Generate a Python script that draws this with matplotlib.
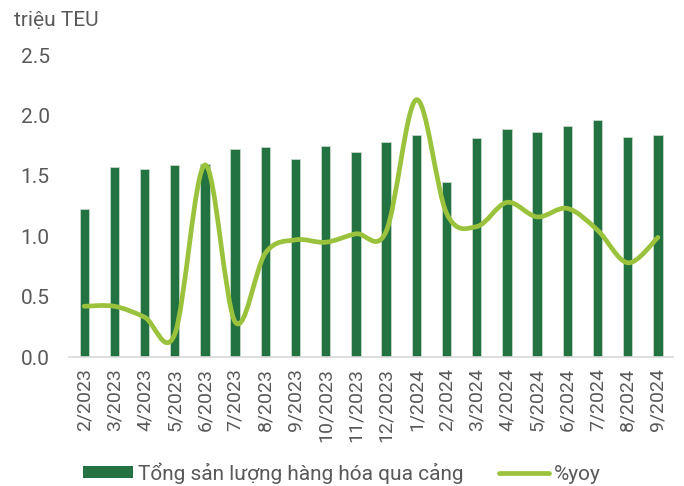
import matplotlib
matplotlib.use("Agg")
import matplotlib.pyplot as plt
from matplotlib.path import Path
from matplotlib.patches import PathPatch, Patch
from matplotlib.lines import Line2D
import numpy as np

plt.rcParams['font.family'] = ['Roboto', 'DejaVu Sans']

months = ["2/2023", "3/2023", "4/2023", "5/2023", "6/2023", "7/2023", "8/2023",
          "9/2023", "10/2023", "11/2023", "12/2023", "1/2024", "2/2024", "3/2024",
          "4/2024", "5/2024", "6/2024", "7/2024", "8/2024", "9/2024"]
throughput = [1.225, 1.57, 1.56, 1.59, 1.60, 1.72, 1.74, 1.64, 1.75, 1.70,
              1.78, 1.84, 1.45, 1.81, 1.89, 1.86, 1.91, 1.96, 1.82, 1.84]
yoy = [0.42, 0.42, 0.33, 0.19, 1.59, 0.29, 0.86, 0.97, 0.95, 1.02,
       1.04, 2.13, 1.19, 1.08, 1.28, 1.16, 1.23, 1.05, 0.78, 0.99]

bar_color = "#237241"
line_color = "#9BC23C"
text_color = "#595959"

fig = plt.figure(figsize=(6.84, 4.86), dpi=100)
ax = fig.add_axes([0.101, 0.2654, 0.883, 0.6214])

x = np.arange(len(months))
ax.bar(x, throughput, width=0.31, color=bar_color, edgecolor="#C8D8CC", linewidth=0.6, zorder=2)

# smoothed line (Excel-style Bezier through the data points)
pts = np.column_stack([x, yoy]).astype(float)
n = len(pts)
verts = [tuple(pts[0])]
codes = [Path.MOVETO]
for i in range(n - 1):
    p0 = pts[i - 1] if i > 0 else pts[i]
    p1 = pts[i]
    p2 = pts[i + 1]
    p3 = pts[i + 2] if i + 2 < n else pts[i + 1]
    c1 = p1 + (p2 - p0) / 6.0
    c2 = p2 - (p3 - p1) / 6.0
    verts += [tuple(c1), tuple(c2), tuple(p2)]
    codes += [Path.CURVE4, Path.CURVE4, Path.CURVE4]
path = Path(verts, codes)
ax.add_patch(PathPatch(path, facecolor="none", edgecolor=line_color, linewidth=3.4,
                       capstyle="round", joinstyle="round", zorder=3))

ax.set_xlim(-0.5, len(months) - 0.5)
ax.set_ylim(0, 2.5)
ax.set_yticks([0, 0.5, 1.0, 1.5, 2.0, 2.5])
ax.set_yticklabels(["0.0", "0.5", "1.0", "1.5", "2.0", "2.5"])
ax.set_xticks(x)
ax.set_xticklabels(months, rotation=90)
ax.tick_params(axis="both", length=0, colors=text_color, labelsize=14)
ax.tick_params(axis="y", pad=14, labelsize=15)
ax.tick_params(axis="x", pad=8)
for s in ["top", "right", "left"]:
    ax.spines[s].set_visible(False)
ax.spines["bottom"].set_color("#D9D9D9")
ax.spines["bottom"].set_linewidth(1.2)

fig.text(0.02, 0.958, "triệu TEU", color=text_color, fontsize=15, va="center", ha="left")

handles = [Patch(facecolor=bar_color, edgecolor="none"),
           Line2D([0], [0], color=line_color, linewidth=3.4, solid_capstyle="round")]
fig.legend(handles, ["Tổng sản lượng hàng hóa qua cảng", "%yoy"], loc="center",
           bbox_to_anchor=(0.5, 0.027), ncol=2, frameon=False, fontsize=15,
           handlelength=2.4, handleheight=0.5, columnspacing=1.7, handletextpad=0.25,
           labelcolor=text_color)

fig.savefig("out.png", dpi=100)
